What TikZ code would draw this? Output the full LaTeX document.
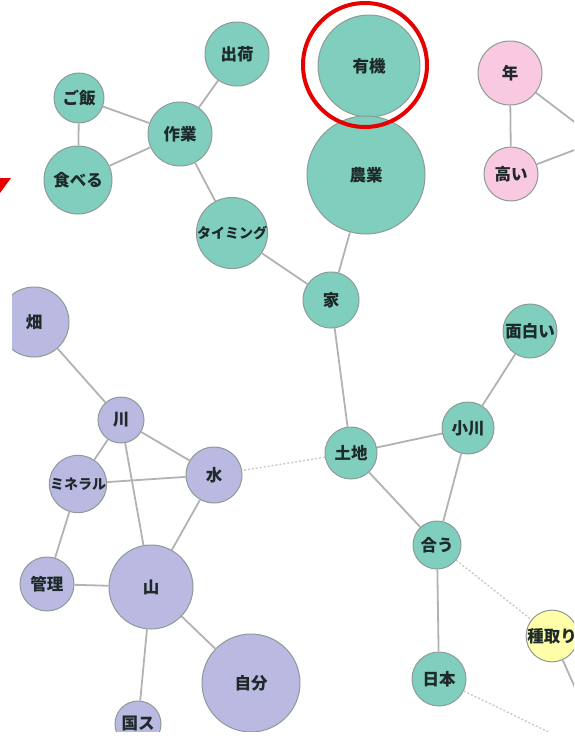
\documentclass[tikz,border=0pt]{standalone}
\usepackage{fontspec}
\newfontfamily\jp{Noto Sans CJK JP}
\usetikzlibrary{calc}
\definecolor{teal1}{HTML}{80CEBE}
\definecolor{purp1}{HTML}{B9B9E1}
\definecolor{pink1}{HTML}{F9C8E1}
\definecolor{yell1}{HTML}{FFFFAA}
\definecolor{bord}{HTML}{8E9A98}
\definecolor{edgec}{HTML}{B2B2B2}
\definecolor{txt}{HTML}{1E2A2A}
\definecolor{ringred}{HTML}{E60000}
\tikzset{
  vtx/.style={circle, draw=bord, line width=1pt, inner sep=0pt, text=txt, font=\jp\bfseries\fontsize{16.5}{16.5}\selectfont},
  tl/.style={vtx, fill=teal1},
  pu/.style={vtx, fill=purp1},
  pk/.style={vtx, fill=pink1},
  ye/.style={vtx, fill=yell1},
  sm/.style={font=\jp\bfseries\fontsize{14}{14}\selectfont},
  edge/.style={draw=edgec, line width=1.8pt},
  weak/.style={draw=edgec!70, line width=1.4pt, dash pattern=on 2pt off 2pt},
  ring/.style={draw=ringred, line width=4pt}
}
\begin{document}
\begin{tikzpicture}[x=1pt,y=-1pt]
\useasboundingbox (0,0) rectangle (574,739);
\begin{scope}
\clip (12,0) rectangle (574,731);
% teal cluster
\node[tl, minimum size=64pt] (shukka) at (237,54) {出荷};
\node[tl, minimum size=50pt] (gohan) at (79,98) {ご飯};
\node[tl, minimum size=64pt] (sagyo) at (180,134) {作業};
\node[tl, minimum size=68pt] (taberu) at (78,180) {食べる};
\node[tl, minimum size=62pt, sm] (timing) at (232,233) {タイミング};
\node[tl, minimum size=102pt] (yuki) at (369,66) {有機};
\node[tl, minimum size=118pt] (nogyo) at (366,175) {農業};
\node[tl, minimum size=56pt] (ie) at (331,300) {家};
\node[tl, minimum size=54pt] (omoshiroi) at (530,331) {面白い};
\node[tl, minimum size=52pt] (ogawa) at (468,428) {小川};
\node[tl, minimum size=52pt] (tochi) at (351,453) {土地};
\node[tl, minimum size=48pt] (au) at (437,545) {合う};
\node[tl, minimum size=54pt] (nihon) at (439,679) {日本};
% pink
\node[pk, minimum size=64pt] (nen) at (510,73) {年};
\node[pk, minimum size=54pt] (takai) at (511,174) {高い};
% yellow
\node[ye, minimum size=50pt] (tanetori) at (552,636) {種取り};
% purple
\node[pu, minimum size=70pt] (hatake) at (34,322) {畑};
\node[pu, minimum size=46pt] (kawa) at (121,420) {川};
\node[pu, minimum size=56pt] (mizu) at (214,475) {水};
\node[pu, minimum size=48pt, sm] (mineral) at (78,484) {ミネラル};
\node[pu, minimum size=54pt] (kanri) at (47,584) {管理};
\node[pu, minimum size=84pt] (yama) at (151,587) {山};
\node[pu, minimum size=98pt] (jibun) at (251,683) {自分};
\node[pu, minimum size=46pt] (kokusu) at (138,724) {国ス};
% free ends
\coordinate (nenout) at (585,130);
\coordinate (takaiout) at (585,146);
\coordinate (taneout) at (585,710);
\coordinate (nihonout) at (565,740);
% edges
\draw[edge] (shukka) -- (sagyo);
\draw[edge] (gohan) -- (sagyo);
\draw[edge] (gohan) -- (taberu);
\draw[edge] (taberu) -- (sagyo);
\draw[edge] (sagyo) -- (timing);
\draw[edge] (timing) -- (ie);
\draw[edge] (nogyo) -- (ie);
\draw[edge] (ie) -- (tochi);
\draw[edge] (tochi) -- (ogawa);
\draw[edge] (ogawa) -- (omoshiroi);
\draw[edge] (ogawa) -- (au);
\draw[edge] (tochi) -- (au);
\draw[edge] (au) -- (nihon);
\draw[weak] (au) -- (tanetori);
\draw[weak] (nihon) -- (nihonout);
\draw[edge] (tanetori) -- (taneout);
\draw[edge] (nen) -- (takai);
\draw[edge] (nen) -- (nenout);
\draw[edge] (takai) -- (takaiout);
\draw[weak] (tochi) -- (mizu);
\draw[edge] (hatake) -- (kawa);
\draw[edge] (kawa) -- (mizu);
\draw[edge] (kawa) -- (mineral);
\draw[edge] (kawa) -- (yama);
\draw[edge] (mineral) -- (mizu);
\draw[edge] (mineral) -- (kanri);
\draw[edge] (mizu) -- (yama);
\draw[edge] (kanri) -- (yama);
\draw[edge] (yama) -- (jibun);
\draw[edge] (yama) -- (kokusu);
% highlight ring
\node[circle, ring, minimum size=124pt, inner sep=0pt] (hl) at (365,65) {};
\end{scope}
% red arrow tip fragment at left edge
\fill[ringred] (0,178) -- (11,178) -- (0,193) -- cycle;
\end{tikzpicture}
\end{document}
